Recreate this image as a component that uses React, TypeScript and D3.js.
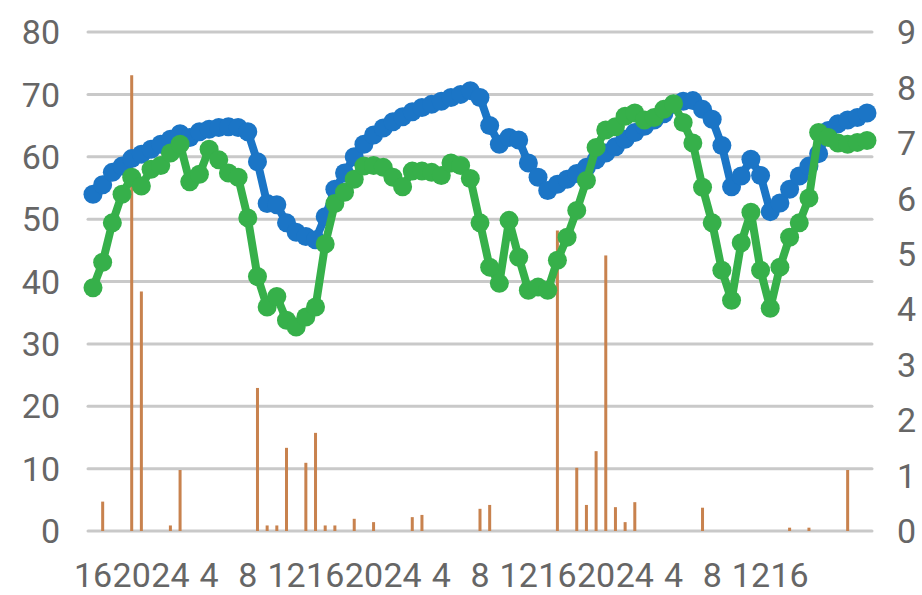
import React, { useEffect } from "react";
import * as d3 from "d3";

const hours = [
  16, 17, 18, 19, 20, 21, 22, 23, 24, 1, 2, 3, 4, 5, 6, 7, 8, 9, 10, 11, 12, 13, 14, 15,
  16, 17, 18, 19, 20, 21, 22, 23, 24, 1, 2, 3, 4, 5, 6, 7, 8, 9, 10, 11, 12, 13, 14, 15,
  16, 17, 18, 19, 20, 21, 22, 23, 24, 1, 2, 3, 4, 5, 6, 7, 8, 9, 10, 11, 12, 13, 14, 15,
  16, 17, 18, 19, 20, 21, 22, 23, 24,
];

const lineBlue = [
  54, 55.5, 57.5, 58.5, 59.7, 60.4, 61.2, 62, 62.8, 63.7,
  63.1, 64, 64.4, 64.7, 64.8, 64.7, 64, 59.2, 52.5, 52.3,
  49.4, 47.9, 47.2, 46.7, 50.4, 54.8, 57.4, 60, 62, 63.5,
  64.6, 65.6, 66.4, 67.2, 67.9, 68.4, 68.9, 69.5, 70, 70.6,
  69.5, 65, 62, 63.1, 62.7, 59, 56.7, 54.6, 55.6, 56.4,
  57.3, 58.3, 59.5, 60.6, 61.6, 62.8, 63.9, 64.9, 65.9, 66.9,
  68.4, 68.9, 69, 67.6, 66, 61.8, 55.2, 56.9, 59.6, 57,
  51.2, 52.6, 54.8, 56.9, 58.5, 60.5, 64.2, 65.3, 65.9, 66.3,
  67,
];

const lineGreen = [
  39, 43.1, 49.4, 54, 56.7, 55.3, 58, 58.6, 60.6, 62,
  56, 57.2, 61.2, 59.5, 57.4, 56.7, 50.2, 40.8, 35.9, 37.6,
  33.8, 32.7, 34.3, 35.9, 46, 52.5, 54.3, 56.4, 58.5, 58.6,
  58.3, 56.7, 55.2, 57.7, 57.7, 57.5, 57, 59, 58.6, 56.5,
  49.4, 42.3, 39.7, 49.8, 43.9, 38.6, 39.1, 38.6, 43.4, 47.1,
  51.4, 56.2, 61.5, 64.3, 64.8, 66.5, 67, 65.9, 66.3, 67.6,
  68.5, 65.5, 62.2, 55.1, 49.4, 41.8, 37, 46.2, 51.1, 41.8,
  35.7, 42.3, 47.1, 49.4, 53.4, 63.9, 63.1, 62.2, 62, 62.3,
  62.6,
];

const rain = [
  0, 0.53, 0, 0, 8.22, 4.32, 0, 0, 0.1, 1.1,
  0, 0, 0, 0, 0, 0, 0, 2.58, 0.1, 0.1,
  1.5, 0, 1.23, 1.77, 0.1, 0.1, 0, 0.22, 0, 0.16,
  0, 0, 0, 0.25, 0.29, 0, 0, 0, 0, 0,
  0.4, 0.47, 0, 0, 0, 0, 0, 0, 5.42, 0,
  1.14, 0.47, 1.44, 4.97, 0.43, 0.16, 0.52, 0, 0, 0,
  0, 0, 0, 0.42, 0, 0, 0, 0, 0, 0,
  0, 0, 0.06, 0, 0.06, 0, 0, 0, 1.1, 0,
  0,
];

const leftTicks = [0, 10, 20, 30, 40, 50, 60, 70, 80];
const rightTicks = [0, 1, 2, 3, 4, 5, 6, 7, 8, 9];
const xTickLabels = ["16", "20", "24", "4", "8", "12", "16", "20", "24", "4", "8", "12", "16", "20", "24", "4", "8", "12", "16"];

const W = 922;
const H = 595;
const BLUE = "#1b75c6";
const GREEN = "#36b04a";
const BAR = "#c8824e";
const GRID = "#c9c9c9";
const TEXT = "#666666";
const FONT = "Roboto, 'Noto Sans', sans-serif";

export default function App() {
  useEffect(() => {
    document.body.style.margin = "0";
  }, []);

  const idx = hours.map((_, i) => i);
  const x = d3.scalePoint<number>().domain(idx).range([93, 867]);
  const yL = d3.scaleLinear().domain([0, 80]).range([531, 32]);
  const yR = d3.scaleLinear().domain([0, 9]).range([531, 32]);

  const line = d3
    .line<number>()
    .x((_, i) => x(i) as number)
    .y((d) => yL(d));

  const fontSize = 34;

  return (
    <svg width={W} height={H} style={{ display: "block", background: "#fff" }}>
      {leftTicks.map((t) => (
        <line key={"g" + t} x1={88} x2={872} y1={yL(t)} y2={yL(t)} stroke={GRID} strokeWidth={3} strokeLinecap="round" />
      ))}
      {leftTicks.map((t) => (
        <text key={"l" + t} x={60} y={yL(t)} dy="0.36em" textAnchor="end" fontFamily={FONT} fontSize={fontSize} fill={TEXT}>
          {t}
        </text>
      ))}
      {rightTicks.map((t) => (
        <text key={"r" + t} x={897} y={yR(t)} dy="0.36em" textAnchor="start" fontFamily={FONT} fontSize={fontSize} fill={TEXT}>
          {t}
        </text>
      ))}
      {xTickLabels.map((lab, k) => (
        <text key={"x" + k} x={x(k * 4) as number} y={587} textAnchor="middle" fontFamily={FONT} fontSize={fontSize} fill={TEXT}>
          {lab}
        </text>
      ))}
      {rain.map((v, i) =>
        v > 0 ? (
          <rect key={"b" + i} x={(x(i) as number) - 1.5} width={3} y={yR(v)} height={yR(0) - yR(v)} fill={BAR} />
        ) : null
      )}
      <path d={line(lineBlue) || ""} fill="none" stroke={BLUE} strokeWidth={8} strokeLinejoin="round" />
      {lineBlue.map((v, i) => (
        <circle key={"cb" + i} cx={x(i) as number} cy={yL(v)} r={9.5} fill={BLUE} />
      ))}
      <path d={line(lineGreen) || ""} fill="none" stroke={GREEN} strokeWidth={8} strokeLinejoin="round" />
      {lineGreen.map((v, i) => (
        <circle key={"cg" + i} cx={x(i) as number} cy={yL(v)} r={9.5} fill={GREEN} />
      ))}
    </svg>
  );
}
